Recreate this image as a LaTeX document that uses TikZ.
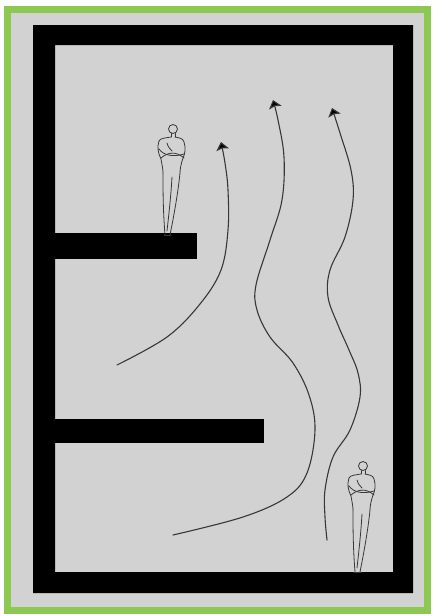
\documentclass[tikz,border=0pt]{standalone}
\usetikzlibrary{arrows.meta}
\definecolor{wallgrey}{RGB}{210,210,210}
\definecolor{edgegreen}{RGB}{141,200,82}
\definecolor{inkgrey}{RGB}{55,55,55}
\tikzset{
  wall/.style={fill=black, draw=none},
  flight/.style={draw=inkgrey, line width=1.1pt, line cap=round,
    -{Stealth[width=13pt,length=8pt,inset=1.5pt,fill=black]}},
  sketch/.style={draw=inkgrey, line width=0.8pt, line cap=round, line join=round},
  pics/person/.style={code={
    % head and neck
    \draw[sketch] (7,-106) circle (4.5);
    \draw[sketch] (5,-101.5) -- (5,-98) (9,-101.5) -- (9,-98);
    % shoulders and upper arms
    \draw[sketch] (5,-98) .. controls (0,-97) and (-6,-97) .. (-7,-94)
      .. controls (-9,-88) and (-8,-82) .. (-5,-76)
      .. controls (-4,-70) and (-3,-66) .. (-3,-62);
    \draw[sketch] (9,-98) .. controls (13,-97) and (17,-97) .. (18,-93)
      .. controls (20,-87) and (19,-81) .. (17,-77)
      .. controls (15,-71) and (14,-66) .. (14,-62);
    % folded arms
    \draw[sketch] (-7,-86) .. controls (-2,-79) and (8,-78) .. (18,-81);
    \draw[sketch] (-5,-77) .. controls (2,-83) and (10,-84) .. (18,-77);
    \draw[sketch] (1,-92) .. controls (2,-88) and (4,-86) .. (6,-84);
    % hips and legs
    \draw[sketch] (-3,-62) .. controls (-3,-45) and (-3,-25) .. (-1,0);
    \draw[sketch] (14,-62) .. controls (12,-42) and (8,-20) .. (4,0);
    \draw[sketch] (6,-58) .. controls (5,-40) and (3,-22) .. (1,-4);
    \draw[sketch] (-2,0) -- (5,0);
  }}
}
\begin{document}
\begin{tikzpicture}[x=1pt,y=-1pt]
  \useasboundingbox (0,0) rectangle (433,616);
  % outer page with green rim
  \fill[white] (0,0) rectangle (433,616);
  \fill[wallgrey] (7.5,9) rectangle (427.5,610.5);
  \draw[edgegreen, line width=7pt] (7.5,9) rectangle (427.5,610.5);

  % black frame and the two ledges
  \path[wall, even odd rule] (33,25) rectangle (413,593) (55,45) rectangle (393,572);
  \node[wall, inner sep=0pt, minimum width=142pt, minimum height=26pt, anchor=north west] (ledgeA) at (55,233) {};
  \node[wall, inner sep=0pt, minimum width=209pt, minimum height=24pt, anchor=north west] (ledgeB) at (55,419) {};

  % the two standing figures
  \pic at (166,235) {person};
  \pic at (356,572) {person};

  % flight paths
  \coordinate (startA) at (117,365);
  \coordinate (tipA) at (221,142);
  \coordinate (startB) at (173,535);
  \coordinate (tipB) at (273,100);
  \coordinate (startC) at (327,540);
  \coordinate (tipC) at (332,108);

  \draw[flight] plot[smooth, tension=0.6] coordinates {
    (startA) (167,337) (200,304) (221,270) (228,230) (228,190) (225,163) (tipA)};
  \draw[flight] plot[smooth, tension=0.6] coordinates {
    (startB) (243,517) (287,497) (307,473) (315,430) (309,395) (293,363)
    (270,337) (257,310) (256,285) (270,240) (282,200) (284,157) (278,120) (tipB)};
  \draw[flight] plot[smooth, tension=0.6] coordinates {
    (startC) (325,517) (325,490) (333,457) (350,430) (360,397) (358,373)
    (349,350) (338,325) (328,297) (330,270) (345,237) (353,200) (351,170)
    (340,133) (tipC)};
\end{tikzpicture}
\end{document}
